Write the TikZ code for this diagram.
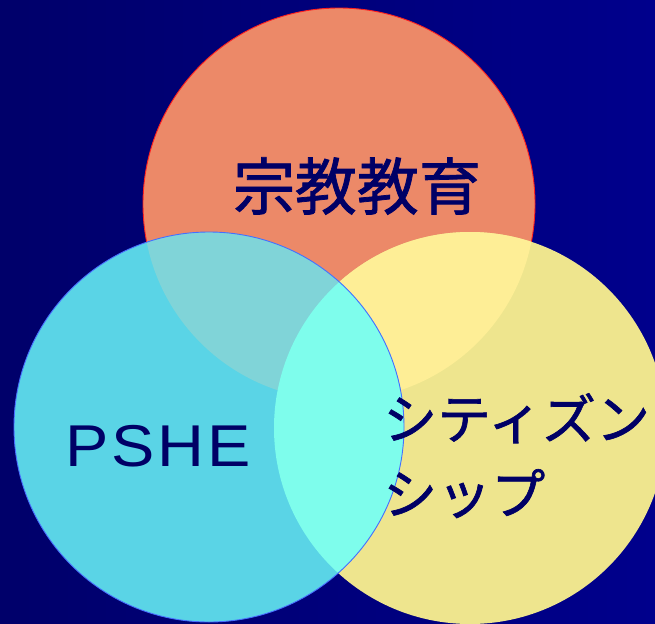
\documentclass[tikz,border=0pt]{standalone}
\usepackage{fontspec}
\newfontfamily\jfont[FakeBold=1.2]{Noto Sans CJK JP}
\newfontfamily\lfont[LetterSpace=5,FakeStretch=1.1]{Liberation Sans}
\definecolor{bgL}{RGB}{0,0,106}
\definecolor{bgR}{RGB}{0,0,140}
\definecolor{cO}{RGB}{236,137,104}
\definecolor{cY}{RGB}{238,229,142}
\definecolor{cC}{RGB}{90,212,230}
\definecolor{cOY}{RGB}{254,238,150}
\definecolor{cOC}{RGB}{128,212,216}
\definecolor{cYC}{RGB}{126,253,236}
\definecolor{txt}{RGB}{0,0,102}
\definecolor{redline}{RGB}{255,30,30}
\definecolor{blueline}{RGB}{70,110,255}
\tikzset{
  label text/.style={text=txt, inner sep=0pt},
}
\begin{document}
\begin{tikzpicture}[x=1pt,y=-1pt]
\useasboundingbox (0,0) rectangle (655,623);
\shade[left color=bgL,right color=bgR] (0,0) rectangle (655,623);
\coordinate (oc) at (339,204);
\coordinate (yc) at (470,428);
\coordinate (cc) at (209,427);
% orange circle
\fill[cO] (oc) circle[radius=196];
\draw[redline, line width=0.9pt] (oc) circle[radius=196];
% yellow circle
\fill[cY] (yc) circle[radius=196];
\begin{scope}
  \clip (yc) circle[radius=196];
  \fill[cOY] (oc) circle[radius=196];
\end{scope}
% cyan circle
\fill[cC] (cc) circle[radius=195];
\begin{scope}
  \clip (cc) circle[radius=195];
  \fill[cOC] (oc) circle[radius=196];
  \fill[cYC] (yc) circle[radius=196];
\end{scope}
\draw[blueline, line width=0.9pt] (cc) circle[radius=195];
% texts
\node[label text, font=\jfont\fontsize{62}{70}\selectfont] (rel) at (357,186) {宗教教育};
\node[label text, font=\lfont\fontsize{59}{66}\selectfont, anchor=base west] (pshe) at (65,466) {PSHE};
\node[label text, font=\jfont\fontsize{54}{75}\selectfont, align=left, anchor=base west] (cit) at (383,514) {シティズン\\シップ};
\end{tikzpicture}
\end{document}
